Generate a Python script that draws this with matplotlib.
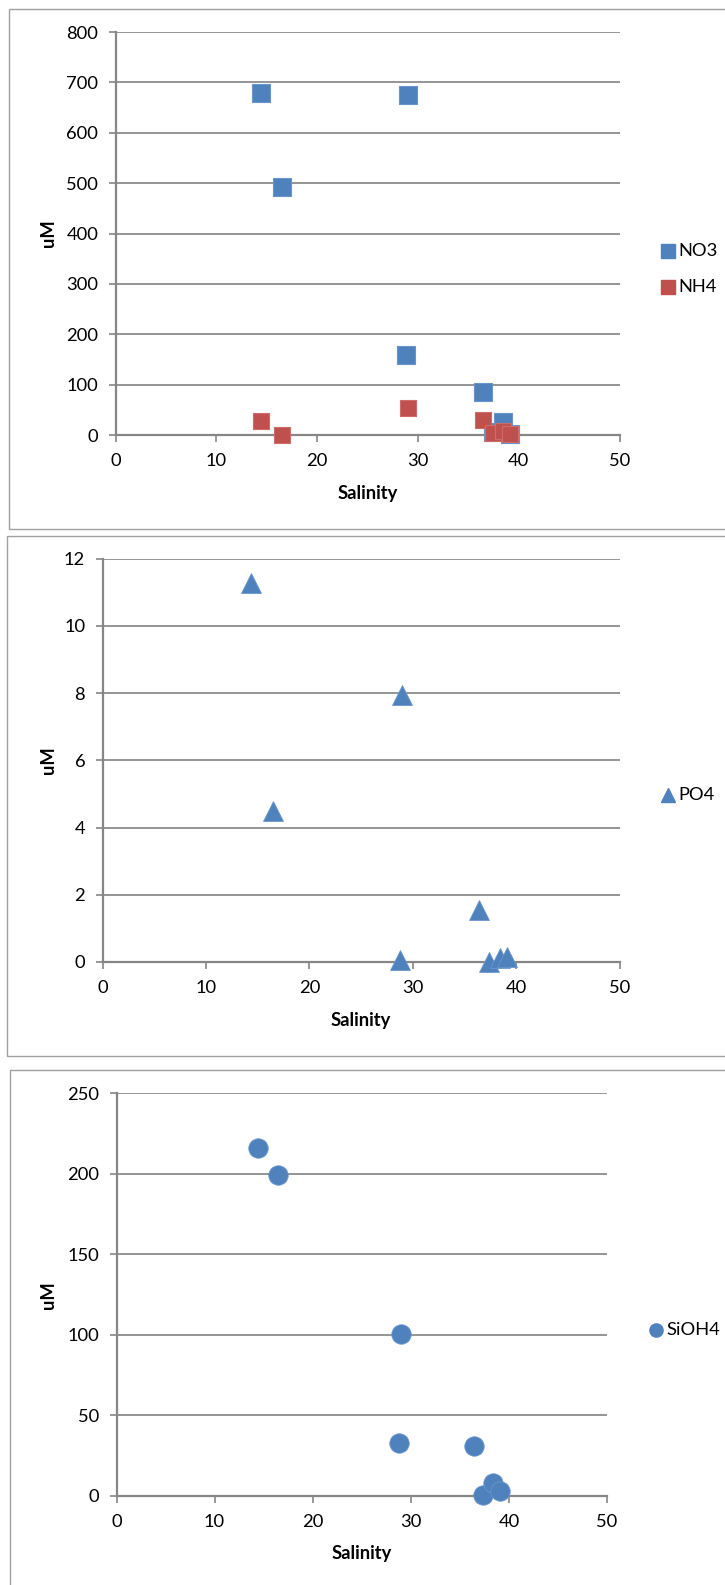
import matplotlib
matplotlib.use("Agg")
import matplotlib.pyplot as plt
from matplotlib.lines import Line2D
from matplotlib.patches import Rectangle

plt.rcParams['font.family'] = ['Lato', 'DejaVu Sans']

# Salinity of each sample (shared by the three panels)
salinity = [14.4, 16.5, 29.0, 28.8, 36.4, 37.4, 38.4, 39.1]

# Nitrogen species (uM)
no3 = [680, 493, 675, 158, 85, 5, 26, 1]
nh4_salinity = [14.4, 16.5, 29.0, 36.4, 37.4, 38.4, 39.1]
nh4 = [28, 0, 53, 30, 3, 7, 1]

# Phosphate (uM)
po4 = [11.27, 4.48, 7.96, 0.05, 1.55, 0.0, 0.13, 0.16]

# Silicate (uM)
sioh4 = [216, 199, 100.5, 33, 31.3, 0.6, 8.0, 3.0]

x_ticks = [0, 10, 20, 30, 40, 50]
y_ticks_n = [0, 100, 200, 300, 400, 500, 600, 700, 800]
y_ticks_p = [0, 2, 4, 6, 8, 10, 12]
y_ticks_si = [0, 50, 100, 150, 200, 250]

BLUE = '#4F81BD'
BLUE_EDGE = '#6a95cc'
RED = '#C0504D'
RED_EDGE = '#cc6d6a'
GRID = '#8c8c8c'
AXIS = '#868686'
FRAME = '#a0a0a0'

TICK_FS = 13.2
LABEL_FS = 13.2

W, H = 725, 1585
DPI = 100
fig = plt.figure(figsize=(W / DPI, H / DPI), dpi=DPI)
fig.patch.set_facecolor('white')


def px_axes(left, top, right, bottom):
    return fig.add_axes([left / W, 1 - bottom / H, (right - left) / W, (bottom - top) / H])


def frame(left, top, right, bottom):
    fig.patches.append(Rectangle((left / W, 1 - bottom / H), (right - left) / W,
                                 (bottom - top) / H, transform=fig.transFigure,
                                 fill=False, edgecolor=FRAME, linewidth=1.0))


def style(ax, yticks):
    ax.set_xlim(0, 50)
    ax.set_ylim(yticks[0], yticks[-1])
    ax.set_xticks(x_ticks)
    ax.set_yticks(yticks)
    ax.grid(axis='y', color=GRID, linewidth=1.3)
    ax.set_axisbelow(True)
    for s in ('top', 'right'):
        ax.spines[s].set_visible(False)
    for s in ('left', 'bottom'):
        ax.spines[s].set_color(AXIS)
        ax.spines[s].set_linewidth(1.6)
        ax.spines[s].set_zorder(1.5)
    ax.tick_params(axis='x', direction='out', length=5, width=1.2, color=AXIS,
                   pad=8, labelsize=TICK_FS, labelcolor='black')
    ax.tick_params(axis='y', direction='out', length=5, width=1.2, color=AXIS,
                   pad=7.5, labelsize=TICK_FS, labelcolor='black')
    ax.set_facecolor('white')


def labels(ux, uy, sx, sy):
    fig.text(ux / W, 1 - uy / H, 'uM', rotation=90, ha='center', va='center',
             fontsize=LABEL_FS, fontweight='bold')
    fig.text(sx / W, 1 - sy / H, 'Salinity', ha='center', va='center',
             fontsize=LABEL_FS, fontweight='bold')


def legend(items, x, ys):
    for (marker, color, ms, text), y in zip(items, ys):
        fig.lines.append(Line2D([x / W], [1 - y / H], transform=fig.transFigure,
                                marker=marker, markersize=ms, color=color,
                                linestyle='none'))
        fig.text((x + 10) / W, 1 - y / H, text, ha='left', va='center',
                 fontsize=TICK_FS)


# ---- Panel 1: NO3 and NH4 ----
frame(9, 9, 760, 529)
ax1 = px_axes(115.6, 32.1, 619.6, 435)
style(ax1, y_ticks_n)
ax1.scatter(salinity, no3, marker='s', s=185, color=BLUE, edgecolors=BLUE_EDGE,
            linewidths=0.8, zorder=3, clip_on=False)
ax1.scatter(nh4_salinity, nh4, marker='s', s=118, color=RED, edgecolors=RED_EDGE,
            linewidths=0.8, zorder=4, clip_on=False)
labels(48.5, 233, 367.6, 493.5)
legend([('s', BLUE, 9.5, 'NO3'), ('s', RED, 9.5, 'NH4')], 668.3, [250.7, 287.3])

# ---- Panel 2: PO4 ----
frame(6.7, 536, 760, 1056)
ax2 = px_axes(102.6, 558.8, 619.6, 962)
style(ax2, y_ticks_p)
ax2.scatter(salinity, po4, marker='^', s=205, color=BLUE, edgecolors=BLUE_EDGE,
            linewidths=0.6, zorder=3, clip_on=False)
labels(48.5, 760.6, 360.7, 1020.5)
legend([('^', BLUE, 10, 'PO4')], 668.3, [795])

# ---- Panel 3: SiOH4 ----
frame(10, 1070, 760, 1620)
ax3 = px_axes(116.5, 1093, 607, 1496)
style(ax3, y_ticks_si)
ax3.scatter(salinity, sioh4, marker='o', s=195, color=BLUE, edgecolors=BLUE_EDGE,
            linewidths=0.6, zorder=3, clip_on=False)
labels(48.5, 1295, 362, 1554)
legend([('o', BLUE, 9.5, 'SiOH4')], 656, [1330])

fig.savefig('out.png', dpi=DPI, facecolor='white')
